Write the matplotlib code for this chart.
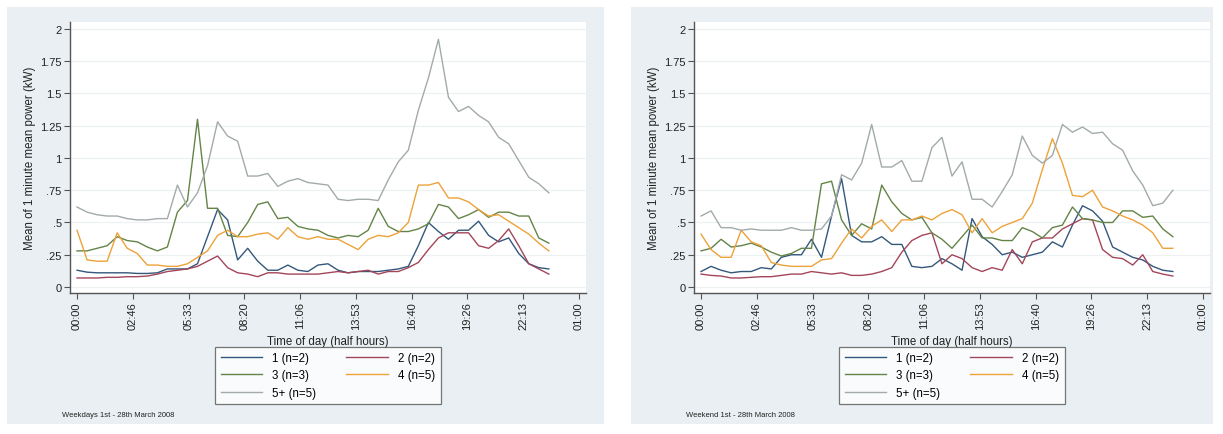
import matplotlib
matplotlib.use("Agg")
import matplotlib.pyplot as plt
from matplotlib.patches import Rectangle
import numpy as np

plt.rcParams['font.family'] = ['Liberation Sans', 'DejaVu Sans']

# half-hour slots, minutes after midnight
minutes = list(range(0, 1440, 30))

x_tick_minutes = [0, 166.67, 333.33, 500, 666.67, 833.33, 1000, 1166.67, 1333.33, 1500]
x_tick_labels = ["00:00", "02:46", "05:33", "08:20", "11:06", "13:53", "16:40", "19:26", "22:13", "01:00"]
y_ticks = [0, 0.25, 0.5, 0.75, 1, 1.25, 1.5, 1.75, 2]
y_tick_labels = ["0", ".25", ".5", ".75", "1", "1.25", "1.5", "1.75", "2"]

series_labels = ["1 (n=2)", "2 (n=2)", "3 (n=3)", "4 (n=5)", "5+ (n=5)"]

# Weekdays
wd_1 = [0.13, 0.115, 0.11, 0.11, 0.11, 0.11, 0.105, 0.105, 0.11, 0.14, 0.14, 0.14,
        0.18, 0.39, 0.60, 0.52, 0.21, 0.30, 0.20, 0.13, 0.13, 0.17, 0.13, 0.12,
        0.17, 0.18, 0.13, 0.11, 0.12, 0.12, 0.12, 0.13, 0.14, 0.16, 0.32, 0.50,
        0.43, 0.37, 0.44, 0.44, 0.51, 0.40, 0.35, 0.38, 0.26, 0.18, 0.15, 0.14]
wd_2 = [0.07, 0.07, 0.07, 0.075, 0.075, 0.08, 0.08, 0.085, 0.10, 0.12, 0.13, 0.14,
        0.16, 0.20, 0.24, 0.15, 0.11, 0.10, 0.08, 0.11, 0.11, 0.10, 0.10, 0.10,
        0.10, 0.11, 0.12, 0.11, 0.12, 0.13, 0.10, 0.12, 0.12, 0.15, 0.19, 0.29,
        0.38, 0.42, 0.42, 0.42, 0.32, 0.30, 0.36, 0.45, 0.32, 0.18, 0.14, 0.10]
wd_3 = [0.28, 0.28, 0.30, 0.32, 0.39, 0.36, 0.35, 0.31, 0.28, 0.31, 0.58, 0.67,
        1.30, 0.61, 0.61, 0.40, 0.39, 0.50, 0.64, 0.66, 0.53, 0.54, 0.47, 0.45,
        0.44, 0.40, 0.38, 0.40, 0.39, 0.44, 0.61, 0.47, 0.43, 0.43, 0.45, 0.49,
        0.64, 0.62, 0.53, 0.56, 0.60, 0.54, 0.58, 0.58, 0.55, 0.55, 0.38, 0.34]
wd_4 = [0.44, 0.21, 0.20, 0.20, 0.42, 0.30, 0.26, 0.17, 0.17, 0.16, 0.16, 0.18,
        0.23, 0.28, 0.40, 0.44, 0.39, 0.39, 0.41, 0.42, 0.37, 0.46, 0.39, 0.37,
        0.39, 0.37, 0.37, 0.33, 0.29, 0.37, 0.40, 0.39, 0.42, 0.50, 0.79, 0.79,
        0.81, 0.69, 0.69, 0.66, 0.60, 0.55, 0.56, 0.51, 0.46, 0.41, 0.34, 0.28]
wd_5 = [0.62, 0.58, 0.56, 0.55, 0.55, 0.53, 0.52, 0.52, 0.53, 0.53, 0.79, 0.62,
        0.73, 0.94, 1.28, 1.17, 1.13, 0.86, 0.86, 0.88, 0.78, 0.82, 0.84, 0.81,
        0.80, 0.79, 0.68, 0.67, 0.68, 0.68, 0.67, 0.83, 0.97, 1.06, 1.37, 1.62,
        1.92, 1.47, 1.36, 1.40, 1.33, 1.28, 1.16, 1.11, 0.98, 0.85, 0.80, 0.73]

# Weekend
we_1 = [0.12, 0.16, 0.13, 0.11, 0.12, 0.12, 0.15, 0.14, 0.23, 0.25, 0.25, 0.37,
        0.23, 0.55, 0.84, 0.40, 0.35, 0.35, 0.39, 0.33, 0.33, 0.16, 0.15, 0.16,
        0.22, 0.18, 0.13, 0.53, 0.39, 0.33, 0.25, 0.27, 0.23, 0.25, 0.27, 0.35,
        0.31, 0.48, 0.63, 0.59, 0.51, 0.31, 0.27, 0.23, 0.21, 0.16, 0.13, 0.12]
we_2 = [0.10, 0.09, 0.085, 0.07, 0.07, 0.075, 0.08, 0.08, 0.09, 0.10, 0.10, 0.12,
        0.11, 0.10, 0.11, 0.09, 0.09, 0.10, 0.12, 0.15, 0.27, 0.36, 0.40, 0.42,
        0.18, 0.25, 0.22, 0.15, 0.12, 0.15, 0.13, 0.29, 0.18, 0.35, 0.38, 0.38,
        0.45, 0.49, 0.53, 0.52, 0.29, 0.23, 0.22, 0.17, 0.25, 0.12, 0.10, 0.085]
we_3 = [0.28, 0.30, 0.37, 0.31, 0.32, 0.34, 0.31, 0.27, 0.24, 0.26, 0.30, 0.30,
        0.80, 0.82, 0.52, 0.40, 0.49, 0.45, 0.79, 0.66, 0.57, 0.52, 0.54, 0.42,
        0.37, 0.30, 0.39, 0.48, 0.38, 0.38, 0.36, 0.36, 0.46, 0.43, 0.38, 0.46,
        0.48, 0.62, 0.53, 0.52, 0.50, 0.50, 0.59, 0.59, 0.54, 0.55, 0.45, 0.39]
we_4 = [0.41, 0.29, 0.23, 0.23, 0.44, 0.35, 0.32, 0.19, 0.17, 0.16, 0.16, 0.16,
        0.21, 0.22, 0.34, 0.45, 0.38, 0.47, 0.52, 0.43, 0.52, 0.52, 0.55, 0.52,
        0.57, 0.60, 0.56, 0.42, 0.53, 0.42, 0.47, 0.50, 0.53, 0.65, 0.91, 1.15,
        0.96, 0.71, 0.70, 0.75, 0.62, 0.59, 0.55, 0.52, 0.48, 0.42, 0.30, 0.30]
we_5 = [0.55, 0.59, 0.46, 0.46, 0.44, 0.45, 0.44, 0.44, 0.44, 0.46, 0.44, 0.44,
        0.45, 0.55, 0.87, 0.83, 0.96, 1.26, 0.93, 0.93, 0.98, 0.82, 0.82, 1.08,
        1.16, 0.86, 0.97, 0.68, 0.68, 0.62, 0.74, 0.87, 1.17, 1.02, 0.96, 1.02,
        1.26, 1.20, 1.24, 1.19, 1.20, 1.11, 1.06, 0.90, 0.79, 0.63, 0.65, 0.75]

colors = ["#34587c", "#a3465a", "#648447", "#eda23a", "#a2abaa"]
panel_bg = "#e9eff2"
axis_col = "#555555"

W, H = 1223, 435
fig = plt.figure(figsize=(W / 100, H / 100), dpi=100)
fig.patch.set_facecolor("white")


def px_rect(x0, y0, x1, y1):
    return [x0 / W, 1 - y1 / H, (x1 - x0) / W, (y1 - y0) / H]


def draw_panel(bg_box, ax_box, series, note):
    bx0, by0, bx1, by1 = bg_box
    fig.patches.append(Rectangle((bx0 / W, 1 - by1 / H), (bx1 - bx0) / W, (by1 - by0) / H,
                                 transform=fig.transFigure, facecolor=panel_bg,
                                 edgecolor="none", zorder=-5))
    ax = fig.add_axes(px_rect(*ax_box))
    ax.set_facecolor("white")
    for vals, c, lab in zip(series, colors, series_labels):
        ax.plot(minutes, vals, color=c, lw=1.0, label=lab)
    ax.set_xlim(-21, 1521)
    ax.set_ylim(-0.0465, 2.054)
    ax.set_yticks(y_ticks)
    ax.set_yticklabels(y_tick_labels)
    ax.set_xticks(x_tick_minutes)
    ax.set_xticklabels(x_tick_labels, rotation=90)
    ax.grid(axis="y", color="#edf1f3", lw=0.9)
    ax.set_axisbelow(True)
    for s in ("top", "right"):
        ax.spines[s].set_visible(False)
    for s in ("left", "bottom"):
        ax.spines[s].set_color(axis_col)
        ax.spines[s].set_linewidth(1.0)
    ax.tick_params(axis="both", direction="out", length=4, width=0.8,
                   color=axis_col, labelsize=8, labelcolor="#222222", pad=2)
    ax.set_ylabel("Mean of 1 minute mean power (kW)", fontsize=8.3, color="#222222", labelpad=3)
    ax.set_xlabel("Time of day (half hours)", fontsize=8.3, color="#222222", labelpad=4)
    handles, labels = ax.get_legend_handles_labels()
    order = [0, 2, 4, 1, 3]
    leg = ax.legend([handles[i] for i in order], [labels[i] for i in order],
                    ncol=2, loc="upper center",
                    bbox_to_anchor=(0.5, -(348 - 294) / (294 - 23)),
                    frameon=True, fancybox=False, fontsize=8.3, handlelength=3.6,
                    handletextpad=0.9, columnspacing=2.6, labelspacing=0.45,
                    borderpad=0.45, borderaxespad=0)
    leg.get_frame().set_edgecolor("#555555")
    leg.get_frame().set_linewidth(0.9)
    fig.text((ax_box[0] - 8) / W, 1 - 416 / H, note, fontsize=5.5, color="#222222",
             va="center", ha="left")
    return ax


draw_panel((7, 8, 604, 425), (70, 23, 586, 294),
           [wd_1, wd_2, wd_3, wd_4, wd_5], "Weekdays 1st - 28th March 2008")
draw_panel((631, 8, 1213, 425), (694, 23, 1210, 294),
           [we_1, we_2, we_3, we_4, we_5], "Weekend 1st - 28th March 2008")

fig.savefig("out.png", dpi=100, facecolor="white")
